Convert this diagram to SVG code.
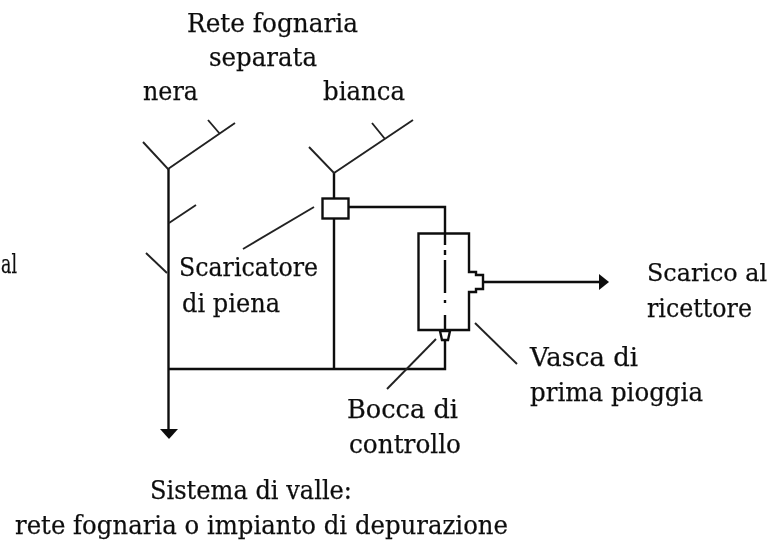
<svg xmlns="http://www.w3.org/2000/svg" width="776" height="542" viewBox="0 0 776 542">
<style>
.t{font-family:"DejaVu Serif","Liberation Serif",serif;font-size:26px;fill:#111;stroke:#111;stroke-width:.25}
.l{fill:none;stroke:#111;stroke-width:2.4}
.s{fill:none;stroke:#222;stroke-width:1.9}
.n{fill:#fff;stroke:#111;stroke-width:2.4}
.h{fill:#111;stroke:none}
</style>
<defs><filter id="soft" x="0" y="0" width="100%" height="100%"><feGaussianBlur stdDeviation="0.45"/></filter></defs>
<rect width="776" height="542" fill="#fff"/>
<g filter="url(#soft)">
<g id="connectors">
<path class="l" d="M168.500 169V431M167.500 369H445V340"/>
<path class="l" d="M334 173V198M334 219V369"/>
<path class="l" d="M349 207H445V233"/>
<path class="l" d="M483 282H600"/>
<path class="s" d="M143 142L168 169L235 123M208 120L220 134M169 223L196 205M146 253L167 273"/>
<path class="s" d="M309 147L334 173L413 120M372 123L385 139"/>
<path class="s" d="M243 249L314 207"/>
<path class="s" d="M436 339L387 389"/>
<path class="s" d="M475 323L517 364"/>
<path class="h" d="M599 274L609 282L599 290Z"/>
<path class="h" d="M160 429H178L169 439Z"/>
</g>
<g id="scaricatore"><rect class="n" x="322.500" y="198.500" width="26" height="20"/></g>
<g id="vasca">
<path class="n" d="M418.500 233.500H469V272H476V275H483V289H476V292H469V330H418.500Z"/>
<path class="l" stroke-dasharray="12 5 5 5 33 7 3 12 15" d="M445 233V330"/>
</g>
<g id="bocca"><path class="n" d="M440 331H450L448 340H442Z"/></g>
<g id="labels">
<text class="t" x="187" y="32" textLength="171" lengthAdjust="spacingAndGlyphs">Rete fognaria</text>
<text class="t" x="209" y="66" textLength="108" lengthAdjust="spacingAndGlyphs">separata</text>
<text class="t" x="143" y="100" textLength="55" lengthAdjust="spacingAndGlyphs">nera</text>
<text class="t" x="323" y="100" textLength="82" lengthAdjust="spacingAndGlyphs">bianca</text>
<text class="t" x="1" y="273" textLength="16" lengthAdjust="spacingAndGlyphs">al</text>
<text class="t" x="179" y="276" textLength="139" lengthAdjust="spacingAndGlyphs">Scaricatore</text>
<text class="t" x="182" y="312" textLength="98" lengthAdjust="spacingAndGlyphs">di piena</text>
<text class="t" x="647" y="281" textLength="120" lengthAdjust="spacingAndGlyphs" style="font-size:24px">Scarico al</text>
<text class="t" x="647" y="317" textLength="105" lengthAdjust="spacingAndGlyphs">ricettore</text>
<text class="t" x="530" y="366" textLength="108" lengthAdjust="spacingAndGlyphs">Vasca di</text>
<text class="t" x="530" y="401" textLength="173" lengthAdjust="spacingAndGlyphs">prima pioggia</text>
<text class="t" x="347" y="418" textLength="111" lengthAdjust="spacingAndGlyphs">Bocca di</text>
<text class="t" x="349" y="453" textLength="112" lengthAdjust="spacingAndGlyphs">controllo</text>
<text class="t" x="150" y="499" textLength="202" lengthAdjust="spacingAndGlyphs">Sistema di valle:</text>
<text class="t" x="15" y="534" textLength="493" lengthAdjust="spacingAndGlyphs">rete fognaria o impianto di depurazione</text>
</g>
</g>
</svg>
